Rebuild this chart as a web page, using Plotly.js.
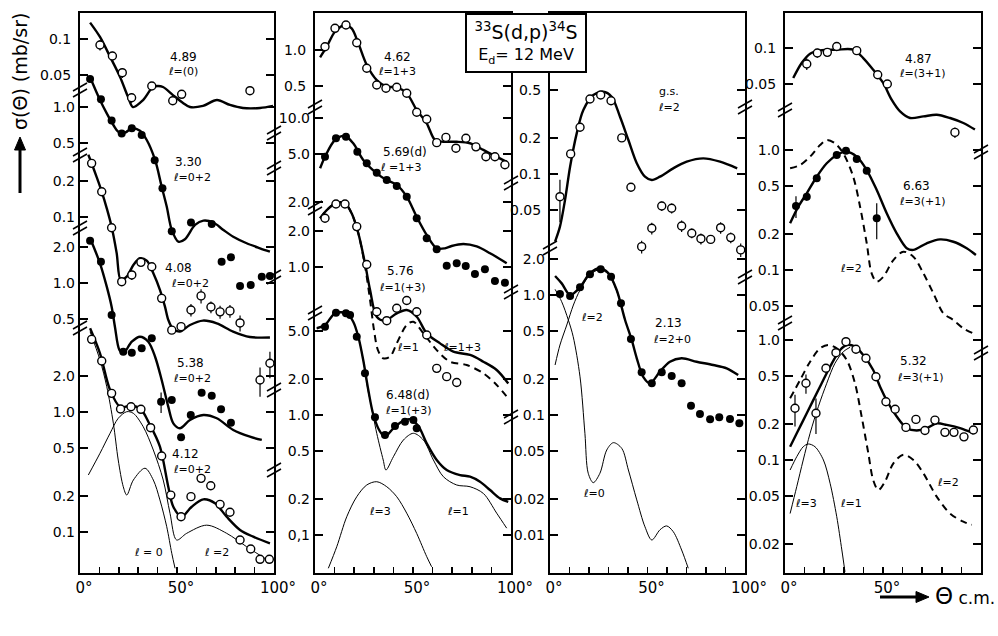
<!DOCTYPE html>
<html><head><meta charset="utf-8">
<script src="https://cdn.plot.ly/plotly-3.0.1.min.js"></script>
<style>html,body{margin:0;padding:0;background:#fff}#chart{width:998px;height:636px}</style>
</head><body><div id="chart"></div>
<script>
// ---------------- DATA (angle in degrees c.m., cross section in mb/sr) ----------------
// Panel 1
const lvl489CurveDeg=[5.2,10.3,15.5,20.6,24.7,27.3,32.5,37.6,40.2,42.8,47.9,53.1,56.7,63.4,70.6,77.3,84.0,92.8,99.5];
const lvl489CurveSig=[0.137,0.104,0.0712,0.0485,0.0331,0.0271,0.031,0.0398,0.0406,0.0398,0.0341,0.0293,0.0271,0.0277,0.031,0.0282,0.0266,0.0266,0.0277];
const lvl489DataDeg=[10.3,16.7,21.8,26.6,37.0,47.8,52.4,87.6];
const lvl489DataSig=[0.0891,0.0722,0.0524,0.0324,0.0406,0.0306,0.0346,0.0371];
const lvl489DataErr=[0.009,0.006,0.005,0.003,0.002,0,0,0.003];

const lvl330CurveDeg=[5.2,10.3,13.8,17.2,19.7,23.2,26.7,30.9,34.4,38.7,42.1,44.7,47.3,50.7,54.1,59.3,63.6,68.7,73.9,79.0,85.9,92.8,97.9];
const lvl330CurveSig=[1.77,1.145,0.886,0.708,0.623,0.611,0.665,0.634,0.531,0.362,0.217,0.148,0.0945,0.0754,0.079,0.104,0.113,0.109,0.0945,0.083,0.0732,0.0665,0.0623];
const lvl330DataDeg=[5.2,10.8,16.3,21.5,26.7,31.8,38.5,42.5,47.3,57.2,67.9,73.0,77.8,82.5,88.0,93.7,97.9];
const lvl330DataSig=[1.71,1.16,0.77,0.60,0.665,0.585,0.36,0.21,0.092,0.109,0.106,0.0514,0.0559,0.0322,0.0329,0.0385,0.0391];

const lvl408CurveDeg=[4.3,6.0,8.6,11.2,13.8,16.3,18.9,21.0,24.1,27.5,30.9,34.4,37.8,41.2,43.8,45.5,47.9,51.5,56.7,63.4,70.5,78.9,87.6,97.9];
const lvl408CurveSig=[0.33,0.28,0.215,0.163,0.118,0.083,0.05,0.0299,0.0318,0.0398,0.0453,0.0433,0.034,0.0247,0.0179,0.0139,0.0117,0.0111,0.0126,0.0137,0.013,0.0111,0.01,0.0099];
const lvl408DataDeg=[6.0,11.2,16.3,21.5,26.7,31.4,37.0,42.1,47.3,52.1,57.2,62.4,67.5,72.2,77.3,82.5,92.8,97.9];
const lvl408DataSig=[0.28,0.1625,0.0814,0.0289,0.0329,0.0419,0.0385,0.021,0.0114,0.0122,0.0168,0.022,0.0178,0.0162,0.0165,0.0131,0.00438,0.00604];
const lvl408DataErr=[0,0,0,0,0.003,0,0,0,0,0,0.002,0.003,0.002,0.002,0.002,0.002,0.0012,0.0015];

const lvl538CurveDeg=[5.2,10.3,13.8,16.3,18.0,20.3,22.3,26.7,30.9,35.2,38.7,42.1,45.5,48.1,51.5,56.7,63.6,70.5,79.0,87.6,93.7];
const lvl538CurveSig=[2.36,1.46,0.932,0.635,0.4325,0.2765,0.2595,0.324,0.357,0.324,0.243,0.1555,0.0932,0.0677,0.0616,0.0722,0.0794,0.0746,0.0596,0.0524,0.0492];
const lvl538DataDeg=[5.2,10.8,16.3,22.3,26.7,31.8,37.0,41.8,47.3,52.1,57.1,62.7,67.9,72.7,77.8];
const lvl538DataSig=[2.25,1.505,0.541,0.2677,0.2625,0.2857,0.346,0.1025,0.106,0.0518,0.0794,0.122,0.115,0.0886,0.0685];
const lvl538DataErr=[0,0,0,0,0,0,0,0.02,0,0,0,0,0,0,0];

const lvl412CurveDeg=[5.2,10.3,15.5,20.6,25.8,30.9,36.1,41.2,45.5,48.1,52.4,57.6,63.6,69.6,75.6,82.5,89.3,97.9];
const lvl412CurveSig=[4.98,3.08,1.525,1.107,1.122,1.074,0.779,0.514,0.2385,0.1625,0.134,0.1625,0.187,0.1734,0.134,0.104,0.0914,0.0805];
const lvl412L0Deg=[5.2,10.3,13.8,17.2,19.7,22.3,24.1,27.5,33.5,37.8,41.2,44.7,47.3,49.0];
const lvl412L0Sig=[4.67,2.71,1.625,0.805,0.398,0.2385,0.2034,0.271,0.34,0.271,0.185,0.1107,0.0665,0.0498];
const lvl412L2Deg=[4.3,10.3,15.5,19.7,24.1,27.5,32.6,37.8,42.9,46.4,49.8,55.0,65.3,75.6,85.9,97.9];
const lvl412L2Sig=[0.2985,0.453,0.665,0.886,1.006,0.975,0.754,0.482,0.271,0.143,0.0858,0.0975,0.114,0.0975,0.0754,0.0566];
const lvl412DataDeg=[6.0,11.2,16.3,20.9,26.3,31.4,36.4,42.1,46.8,52.1,57.2,62.4,67.4,72.2,77.3,82.5,88.0,92.8,97.6];
const lvl412DataSig=[4.03,2.66,1.43,1.06,1.107,1.053,0.74,0.43,0.203,0.134,0.197,0.28,0.243,0.17,0.146,0.0858,0.0722,0.0592,0.0592];

// Panel 2
const lvl462CurveDeg=[2.6,6.0,10.2,15.3,18.7,22.1,26.4,31.5,36.6,41.7,46.8,51.9,57.0,61.2,65.5,72.3,79.1,85.9,91.0,97.8];
const lvl462CurveSig=[0.869,1.065,1.42,1.615,1.516,1.137,0.75,0.562,0.495,0.489,0.436,0.316,0.245,0.178,0.172,0.172,0.167,0.147,0.133,0.117];
const lvl462DataDeg=[5.1,10.2,15.8,21.3,26.4,31.5,36.2,41.7,46.8,51.9,57.0,62.1,66.8,71.9,77.0,82.1,87.2,91.8,96.9];
const lvl462DataSig=[1.065,1.516,1.615,1.15,0.704,0.511,0.48,0.489,0.436,0.303,0.265,0.169,0.187,0.152,0.184,0.156,0.129,0.129,0.1105];

const lvl569CurveDeg=[2.6,5.1,10.2,15.3,19.5,24.6,31.5,36.6,41.7,46.8,51.9,57.0,62.1,66.3,69.7,75.7,82.5,89.3,97.8];
const lvl569CurveSig=[3.81,4.76,6.56,7.08,6.15,4.47,3.46,3.04,2.77,2.21,1.5,1.06,0.82,0.82,0.858,0.891,0.851,0.746,0.616];
const lvl569DataDeg=[5.1,10.7,15.8,21.6,26.4,31.5,36.6,41.7,46.8,51.9,57.0,62.1,67.2,72.3,76.9,81.6,86.7,91.8,96.9];
const lvl569DataSig=[4.76,6.77,6.99,5.24,4.19,3.5,3.04,2.71,2.21,1.46,0.994,0.805,0.588,0.616,0.585,0.501,0.549,0.438,0.424];

const lvl576CurveDeg=[2.6,6.0,11.1,15.3,18.7,22.1,25.5,28.1,31.5,35.7,41.7,46.8,51.9,57.0,63.8,70.6,79.1,85.9,92.7,98.6];
const lvl576CurveSig=[2.546,2.985,3.435,3.4,2.80,1.91,1.073,0.643,0.385,0.357,0.411,0.438,0.385,0.28,0.231,0.197,0.185,0.1625,0.1386,0.107];
const lvl576L1Deg=[2.6,6.0,11.1,15.3,18.7,22.1,25.5,28.1,30.1,32.1,34.8,38.3,41.7,46.8,50.2,55.3,62.1,68.9,77.4,85.9,92.7,98.6];
const lvl576L1Sig=[2.546,2.985,3.435,3.4,2.80,1.91,1.02,0.53,0.2985,0.203,0.1734,0.179,0.231,0.329,0.35,0.28,0.203,0.1625,0.1525,0.13,0.104,0.0805];
const lvl576DataDeg=[5.1,10.7,15.3,21.3,26.4,31.5,36.6,41.7,46.8,51.9,57.0,62.1,67.2,72.3];
const lvl576DataSig=[2.55,3.35,3.35,2.17,1.05,0.424,0.357,0.453,0.526,0.424,0.271,0.143,0.122,0.109];

const lvl648CurveDeg=[0.9,5.1,10.2,16.2,19.5,22.1,24.6,27.2,29.8,33.2,35.7,40.0,45.1,48.5,52.7,57.0,62.1,67.2,74.0,79.1,84.2,89.3,94.4,98.6];
const lvl648CurveSig=[5.28,5.62,7.04,7.04,5.99,4.49,2.87,1.615,1.0,0.726,0.66,0.775,0.897,0.921,0.81,0.581,0.422,0.348,0.316,0.306,0.278,0.237,0.202,0.189];
const lvl648L1Deg=[0.9,5.1,10.2,16.2,19.5,22.1,24.6,27.2,28.1,31.5,34.8,36.2,40.0,45.1,50.2,55.3,60.4,65.5,72.3,79.1,85.9,92.7,97.8];
const lvl648L1Sig=[5.28,5.62,7.04,7.04,5.99,4.49,2.87,1.555,1.334,0.704,0.422,0.348,0.449,0.619,0.704,0.619,0.422,0.306,0.261,0.2525,0.222,0.152,0.114];
const lvl648L3Deg=[6.8,11.1,16.2,21.3,26.4,31.5,36.6,41.7,46.8,51.9,57.0,59.5];
const lvl648L3Sig=[0.0528,0.0799,0.142,0.2085,0.261,0.278,0.2525,0.2085,0.152,0.103,0.066,0.0544];
const lvl648DataDeg=[5.1,10.7,15.8,17.9,21.3,25.5,30.6,35.7,40.8,45.9,50.2,51.9];
const lvl648DataSig=[5.44,7.12,7.04,6.81,4.49,2.226,0.957,0.681,0.81,0.879,0.908,0.775];

// Panel 3
const gsCurveDeg=[2.6,5.1,7.7,10.3,13.7,17.1,22.2,27.3,31.6,35.9,40.2,44.5,48.7,52.2,56.4,63.2,70.1,78.6,87.2,96.0];
const gsCurveSig=[0.0273,0.0364,0.0607,0.115,0.218,0.341,0.455,0.485,0.441,0.30,0.192,0.123,0.095,0.0891,0.095,0.1115,0.1266,0.135,0.1266,0.1115];
const gsDataDeg=[5.1,10.6,15.4,20.5,26.0,31.3,36.8,41.5,47.0,52.2,57.3,62.4,67.5,72.7,77.4,82.4,87.5,92.7,97.8];
const gsDataSig=[0.0647,0.147,0.245,0.422,0.455,0.408,0.2,0.0775,0.0248,0.0353,0.0541,0.0518,0.0369,0.0321,0.0289,0.0285,0.0357,0.0295,0.0233];
const gsDataErr=[0.025,0.01,0,0,0,0,0,0.005,0.003,0.004,0.005,0.005,0.004,0.003,0.003,0.002,0.004,0.003,0.003];

const lvl213CurveDeg=[2.6,6.0,10.3,15.4,20.5,25.6,29.9,34.2,38.5,41.9,44.5,47.8,51.3,56.4,61.5,67.5,75.2,83.7,90.6,96.5];
const lvl213CurveSig=[1.44,1.25,1.0,1.16,1.52,1.67,1.52,1.10,0.619,0.422,0.297,0.208,0.184,0.23,0.278,0.297,0.278,0.261,0.245,0.215];
const lvl213L2Deg=[2.6,5.1,8.6,12.0,15.4,20.5,25.6,29.9,34.2,38.5];
const lvl213L2Sig=[0.261,0.383,0.562,0.825,1.10,1.47,1.63,1.49,1.08,0.61];
const lvl213L0Deg=[2.6,6.0,9.4,11.9,15.4,17.9,19.6,22.2,25.6,29.1,32.5,36.8,40.2,44.5,48.7,52.2,56.4,59.8,63.2,67.5,70.9];
const lvl213L0Sig=[1.115,0.879,0.619,0.449,0.208,0.0704,0.0327,0.0273,0.0327,0.0511,0.0588,0.0527,0.0348,0.0196,0.0117,0.00909,0.01105,0.0119,0.01066,0.0075,0.00528];
const lvl213DataDeg=[5.1,10.3,15.4,20.5,26.0,31.3,36.4,41.5,47.0,52.2,57.3,62.4,67.5,72.3,76.9,82.1,86.8,92.3,97.1];
const lvl213DataSig=[1.02,0.98,1.16,1.49,1.64,1.42,0.853,0.43,0.227,0.184,0.227,0.211,0.184,0.1195,0.102,0.0921,0.0957,0.0926,0.0853];

// Panel 4
const lvl487CurveDeg=[4.2,8.5,12.8,17.9,26.4,34.8,39.9,45.0,50.1,54.4,58.7,63.8,70.6,77.4,84.2,91.0,96.9];
const lvl487CurveSig=[0.0562,0.075,0.0897,0.0955,0.0968,0.0968,0.0825,0.0659,0.0511,0.0371,0.0296,0.0261,0.0269,0.0278,0.0261,0.0237,0.0209];
const lvl487DataDeg=[11.1,16.5,21.6,26.4,36.6,47.3,52.2,86.7];
const lvl487DataSig=[0.0736,0.0908,0.092,0.103,0.095,0.0599,0.0501,0.0198];
const lvl487DataErr=[0.008,0.008,0.008,0.006,0,0,0,0.002];

const lvl663CurveDeg=[2.6,6.8,11.1,16.2,21.3,26.4,31.5,36.6,41.7,46.8,51.9,57.0,62.1,65.5,72.3,79.1,85.9,92.7,97.4];
const lvl663CurveSig=[0.245,0.337,0.436,0.599,0.775,0.908,0.968,0.88,0.681,0.464,0.297,0.202,0.152,0.147,0.167,0.18,0.172,0.152,0.1335];
const lvl663L2Deg=[2.6,7.7,12.8,17.9,21.3,25.5,29.7,34.8,38.3,41.7,44.2,46.8,50.2,55.3,60.4,65.5,70.6,75.7,80.8,85.9,91.0,96.1];
const lvl663L2Sig=[0.704,0.75,0.88,1.10,1.21,1.137,0.939,0.599,0.337,0.167,0.0939,0.08,0.088,0.121,0.142,0.129,0.0939,0.064,0.0436,0.0383,0.0326,0.0296];
const lvl663DataDeg=[5.6,11.1,16.2,26.4,31.1,36.6,41.7,46.8];
const lvl663DataSig=[0.341,0.408,0.581,0.908,0.987,0.841,0.672,0.27];
const lvl663DataErr=[0.07,0.03,0,0,0,0,0,0.09];

const lvl532CurveDeg=[2.6,6.0,11.1,17.0,23.0,28.1,31.5,35.7,39.9,45.0,48.5,52.7,57.0,62.1,67.2,72.3,77.4,82.5,89.3,96.1];
const lvl532CurveSig=[0.129,0.167,0.245,0.383,0.599,0.825,0.908,0.88,0.75,0.562,0.408,0.297,0.23,0.184,0.176,0.184,0.202,0.196,0.184,0.167];
const lvl532L2Deg=[2.6,7.7,12.8,17.9,22.1,26.4,31.5,35.7,39.1,42.5,45.0,47.6,51.0,55.3,60.4,65.5,70.6,77.4,84.2,91.0,95.3];
const lvl532L2Sig=[0.327,0.464,0.659,0.853,0.908,0.853,0.681,0.436,0.23,0.114,0.0681,0.0562,0.066,0.0939,0.1105,0.1,0.0775,0.0495,0.0358,0.0306,0.0288];
const lvl532L3Deg=[2.6,6.0,9.3,12.8,17.0,21.3,25.5,29.8,33.2];
const lvl532L3Sig=[0.0358,0.06,0.1,0.167,0.278,0.436,0.64,0.80,0.87];
const lvl532L1Deg=[2.6,6.0,9.3,11.9,15.3,19.6,23.0,26.4,29.0,30.6];
const lvl532L1Sig=[0.0825,0.1066,0.129,0.136,0.129,0.1,0.064,0.0337,0.0178,0.0117];
const lvl532DataDeg=[5.1,10.7,15.8,20.9,26.0,31.1,36.2,41.3,46.4,51.5,56.2,61.7,66.8,71.4,76.5,81.6,86.2,91.3,96.1];
const lvl532DataSig=[0.27,0.436,0.245,0.581,0.784,0.968,0.837,0.704,0.494,0.306,0.265,0.187,0.218,0.176,0.215,0.17,0.17,0.156,0.178];
const lvl532DataErr=[0.08,0.08,0.08,0,0,0,0,0,0,0,0,0,0,0,0,0,0,0,0];

// tick labels
const xTickVals=[0,50,100];
const xTickText=['0°','50°','100°'];

// ---------------- LAYOUT GEOMETRY ----------------
const W=998,H=636,TOP=13,BOT=573,DEC=120;
const pxX=p=>p/W, pxY=p=>1-p/H;
const FONT='DejaVu Sans';
const panels=[
  {x:'x', left:80, right:274},
  {x:'x2',left:315,right:511},
  {x:'x3',left:550,right:745},
  {x:'x4',left:785,right:981}
];
// each broken-axis segment: anchor value v0 sits at pixel row p0
const segs=[
  {id:'y',  panel:0, v0:0.1, p0:39,  tv:[0.1,0.05], tt:['0.1','0.05']},
  {id:'y2', panel:0, v0:1,   p0:107, tv:[1,0.5], tt:['1.0','0.5']},
  {id:'y3', panel:0, v0:0.1, p0:217, tv:[0.2,0.1], tt:['0.2','0.1']},
  {id:'y4', panel:0, v0:1,   p0:283, tv:[2,1,0.5], tt:['2.0','1.0','0.5']},
  {id:'y5', panel:0, v0:1,   p0:412, tv:[2,1,0.5,0.2,0.1], tt:['2.0','1.0','0.5','0.2','0.1']},
  {id:'y6', panel:1, v0:1,   p0:50,  tv:[1,0.5], tt:['1.0','0.5']},
  {id:'y7', panel:1, v0:10,  p0:118, tv:[10,5,2], tt:['10.0','5.0','2.0']},
  {id:'y8', panel:1, v0:1,   p0:267, tv:[2,1], tt:['2.0','1.0']},
  {id:'y9', panel:1, v0:1,   p0:415, tv:[5,2,1,0.5,0.2,0.1], tt:['5.0','2.0','1.0','0.5','0.2','0,1']},
  {id:'y10',panel:2, v0:0.1, p0:174, tv:[0.5,0.2,0.1,0.05], tt:['0.5','0.2','0.1','0.05']},
  {id:'y11',panel:2, v0:0.1, p0:415, tv:[2,1,0.5,0.2,0.1,0.05,0.02,0.01], tt:['2.0','1.0','0.5','0.2','0.1','0.05','0.02','0.01']},
  {id:'y12',panel:3, v0:0.1, p0:48,  tv:[0.1,0.05], tt:['0.1','0.05']},
  {id:'y13',panel:3, v0:1,   p0:150, tv:[1,0.5,0.2,0.1,0.05], tt:['1.0','0.5','0.2','0.1','0.05']},
  {id:'y14',panel:3, v0:1,   p0:340, tv:[1,0.5,0.2,0.1,0.05,0.02], tt:['1.0','0.5','0.2','0.1','0.05','0.02']}
];

const layout={
  width:W,height:H,margin:{l:0,r:0,t:0,b:0},
  paper_bgcolor:'#fff',plot_bgcolor:'rgba(0,0,0,0)',showlegend:false,
  font:{family:FONT,color:'#000'},
  annotations:[],shapes:[]
};
const mainOf={};
segs.forEach(s=>{ if(!(s.panel in mainOf)) mainOf[s.panel]=s.id; });
panels.forEach((p,i)=>{
  const name='xaxis'+(i===0?'':(i+1));
  layout[name]={domain:[p.left/W,p.right/W],range:[0,100],anchor:mainOf[i],
    tickmode:'array',tickvals:xTickVals,ticktext:xTickText,ticks:'inside',ticklen:6,tickwidth:1.5,tickcolor:'#000',
    minor:{tickmode:'linear',tick0:0,dtick:10,ticks:'inside',ticklen:6,tickwidth:1.5,tickcolor:'#000',showgrid:false},
    showline:true,mirror:true,linewidth:2,linecolor:'#000',showgrid:false,zeroline:false,
    tickfont:{family:FONT,size:15},ticklabelshift:4,fixedrange:true};
});
segs.forEach(s=>{
  const isMain=mainOf[s.panel]===s.id;
  const name='yaxis'+s.id.slice(1);
  const top=Math.log10(s.v0)+(s.p0-TOP)/DEC, bot=Math.log10(s.v0)-(BOT-s.p0)/DEC;
  const ax={type:'log',range:[bot,top],anchor:panels[s.panel].x,
    tickmode:'array',tickvals:s.tv,ticktext:s.tt,ticks:'inside',ticklen:8,tickwidth:1.5,tickcolor:'#000',
    mirror:'ticks',showline:isMain,linewidth:2,linecolor:'#000',showgrid:false,zeroline:false,
    tickfont:{family:FONT,size:14},ticklabelstandoff:4,fixedrange:true};
  if(isMain) ax.domain=[1-BOT/H,1-TOP/H]; else ax.overlaying=mainOf[s.panel];
  layout[name]=ax;
});

// ---------------- TRACES ----------------
const traces=[];
function curve(xs,ys,xa,ya,kind){
  const st={main:{width:2.4},thin:{width:1},dash:{width:2,dash:'7px,5px'}}[kind];
  traces.push({type:'scatter',mode:'lines',x:xs,y:ys,xaxis:xa,yaxis:ya,hoverinfo:'skip',
    line:Object.assign({color:'#000',shape:'spline',smoothing:0.9},st)});
}
function points(xs,ys,xa,ya,filled,err){
  const t={type:'scatter',mode:'markers',x:xs,y:ys,xaxis:xa,yaxis:ya,cliponaxis:false,hoverinfo:'skip',
    marker:filled?{size:8,color:'#000'}:{size:8,color:'#fff',line:{color:'#000',width:1.4}}};
  if(err) t.error_y={type:'data',array:err,visible:true,color:'#000',thickness:1.2,width:0};
  traces.push(t);
}
// panel 1
curve(lvl489CurveDeg,lvl489CurveSig,'x','y','main');  points(lvl489DataDeg,lvl489DataSig,'x','y',false,lvl489DataErr);
curve(lvl330CurveDeg,lvl330CurveSig,'x','y2','main'); points(lvl330DataDeg,lvl330DataSig,'x','y2',true);
curve(lvl408CurveDeg,lvl408CurveSig,'x','y3','main'); points(lvl408DataDeg,lvl408DataSig,'x','y3',false,lvl408DataErr);
curve(lvl538CurveDeg,lvl538CurveSig,'x','y4','main'); points(lvl538DataDeg,lvl538DataSig,'x','y4',true,lvl538DataErr);
curve(lvl412L0Deg,lvl412L0Sig,'x','y5','thin'); curve(lvl412L2Deg,lvl412L2Sig,'x','y5','thin');
curve(lvl412CurveDeg,lvl412CurveSig,'x','y5','main'); points(lvl412DataDeg,lvl412DataSig,'x','y5',false);
// panel 2
curve(lvl462CurveDeg,lvl462CurveSig,'x2','y6','main'); points(lvl462DataDeg,lvl462DataSig,'x2','y6',false);
curve(lvl569CurveDeg,lvl569CurveSig,'x2','y7','main'); points(lvl569DataDeg,lvl569DataSig,'x2','y7',true);
curve(lvl576L1Deg,lvl576L1Sig,'x2','y8','dash'); curve(lvl576CurveDeg,lvl576CurveSig,'x2','y8','main'); points(lvl576DataDeg,lvl576DataSig,'x2','y8',false);
curve(lvl648L1Deg,lvl648L1Sig,'x2','y9','thin'); curve(lvl648L3Deg,lvl648L3Sig,'x2','y9','thin');
curve(lvl648CurveDeg,lvl648CurveSig,'x2','y9','main'); points(lvl648DataDeg,lvl648DataSig,'x2','y9',true);
// panel 3
curve(gsCurveDeg,gsCurveSig,'x3','y10','main'); points(gsDataDeg,gsDataSig,'x3','y10',false,gsDataErr);
curve(lvl213L2Deg,lvl213L2Sig,'x3','y11','thin'); curve(lvl213L0Deg,lvl213L0Sig,'x3','y11','thin');
curve(lvl213CurveDeg,lvl213CurveSig,'x3','y11','main'); points(lvl213DataDeg,lvl213DataSig,'x3','y11',true);
// panel 4
curve(lvl487CurveDeg,lvl487CurveSig,'x4','y12','main'); points(lvl487DataDeg,lvl487DataSig,'x4','y12',false,lvl487DataErr);
curve(lvl663L2Deg,lvl663L2Sig,'x4','y13','dash'); curve(lvl663CurveDeg,lvl663CurveSig,'x4','y13','main'); points(lvl663DataDeg,lvl663DataSig,'x4','y13',true,lvl663DataErr);
curve(lvl532L2Deg,lvl532L2Sig,'x4','y14','dash'); curve(lvl532L3Deg,lvl532L3Sig,'x4','y14','thin'); curve(lvl532L1Deg,lvl532L1Sig,'x4','y14','thin');
curve(lvl532CurveDeg,lvl532CurveSig,'x4','y14','main'); points(lvl532DataDeg,lvl532DataSig,'x4','y14',false,lvl532DataErr);

// ---------------- TEXT ----------------
function label(text,px,py,size){
  layout.annotations.push({xref:'paper',yref:'paper',x:pxX(px),y:pxY(py),text:text,showarrow:false,borderpad:0,
    xanchor:'center',yanchor:'middle',font:{family:FONT,size:size||11}});
}
const levelLabels=[
  ['4.89',183,57,12],['ℓ=(0)',183,72],['3.30',188,162,12],['ℓ=0+2',192,177],
  ['4.08',178,268,12],['ℓ=0+2',190,283],['5.38',190,363,12],['ℓ=0+2',192,378],
  ['4.12',185,454,12],['ℓ=0+2',192,470],['ℓ = 0',148,552],['ℓ =2',216,552],
  ['4.62',397,57,12],['ℓ=1+3',397,72],['5.69(d)',405,152,12],['ℓ =1+3',400,168],
  ['5.76',400,271,12],['ℓ=1(+3)',402,287],['ℓ=1',408,347],['ℓ=1+3',462,347],
  ['6.48(d)',408,395,12],['ℓ=1(+3)',408,410],['ℓ=3',380,511],['ℓ=1',458,511],
  ['g.s.',669,92],['ℓ=2',669,107],['2.13',668,323,12],['ℓ=2+0',672,339],['ℓ=2',592,317],['ℓ=0',594,493],
  ['4.87',918,59,12],['ℓ=(3+1)',922,74],['6.63',916,186,12],['ℓ=3(+1)',922,201],['ℓ=2',851,268],
  ['5.32',913,361,12],['ℓ=3(+1)',920,377],['ℓ=2',948,482],['ℓ=3',806,503],['ℓ=1',851,503]
];
levelLabels.forEach(l=>label(l[0],l[1],l[2],l[3]));

// reaction box
layout.annotations.push({xref:'paper',yref:'paper',x:pxX(526),y:pxY(43),xanchor:'center',yanchor:'middle',showarrow:false,
  text:"<span style='font-size:19px'><sup>33</sup>S(d,p)<sup>34</sup>S</span><br><span style='font-size:16px'>E<sub>d</sub>= 12 MeV</span>",
  bgcolor:'#fff',bordercolor:'#000',borderwidth:2,borderpad:0,width:118,height:56,font:{family:FONT,size:16}});

// axis titles
layout.annotations.push({xref:'paper',yref:'paper',x:pxX(20),y:pxY(72),text:'σ(Θ) (mb/sr)',textangle:-90,showarrow:false,
  xanchor:'center',yanchor:'middle',font:{family:FONT,size:19}});
layout.annotations.push({xref:'paper',yref:'paper',x:pxX(933),y:pxY(596),xanchor:'left',yanchor:'middle',showarrow:false,
  text:"<span style='font-size:23px'>Θ</span> c.m.",font:{family:FONT,size:17}});
// arrows drawn as shapes
layout.shapes.push({type:'line',xref:'paper',yref:'paper',x0:pxX(20),y0:pxY(193),x1:pxX(20),y1:pxY(148),line:{color:'#000',width:3}});
layout.shapes.push({type:'path',xref:'paper',yref:'paper',fillcolor:'#000',line:{color:'#000',width:1},
  path:`M ${pxX(20)},${pxY(137)} L ${pxX(14.5)},${pxY(150)} L ${pxX(25.5)},${pxY(150)} Z`});
layout.shapes.push({type:'line',xref:'paper',yref:'paper',x0:pxX(880),y0:pxY(597),x1:pxX(918),y1:pxY(597),line:{color:'#000',width:3}});
layout.shapes.push({type:'path',xref:'paper',yref:'paper',fillcolor:'#000',line:{color:'#000',width:1},
  path:`M ${pxX(929)},${pxY(597)} L ${pxX(916)},${pxY(591.5)} L ${pxX(916)},${pxY(602.5)} Z`});

// axis-break marks
const breaks=[[80,90],[80,155],[80,228],[80,328],[274,133],[274,168],[274,277],[274,390],[274,470],
  [315,107],[315,208],[315,313],[511,183],[511,292],[511,417],
  [550,248],[745,107],[745,277],[785,110],[785,323],[981,152],[981,353]];
breaks.forEach(b=>{
  [-3,3].forEach(d=>{
    layout.shapes.push({type:'line',xref:'paper',yref:'paper',
      x0:pxX(b[0]-7),y0:pxY(b[1]+d+4),x1:pxX(b[0]+7),y1:pxY(b[1]+d-4),line:{color:'#000',width:1.5}});
  });
});

Plotly.newPlot('chart',traces,layout,{displayModeBar:false,staticPlot:true});
</script>
</body></html>
